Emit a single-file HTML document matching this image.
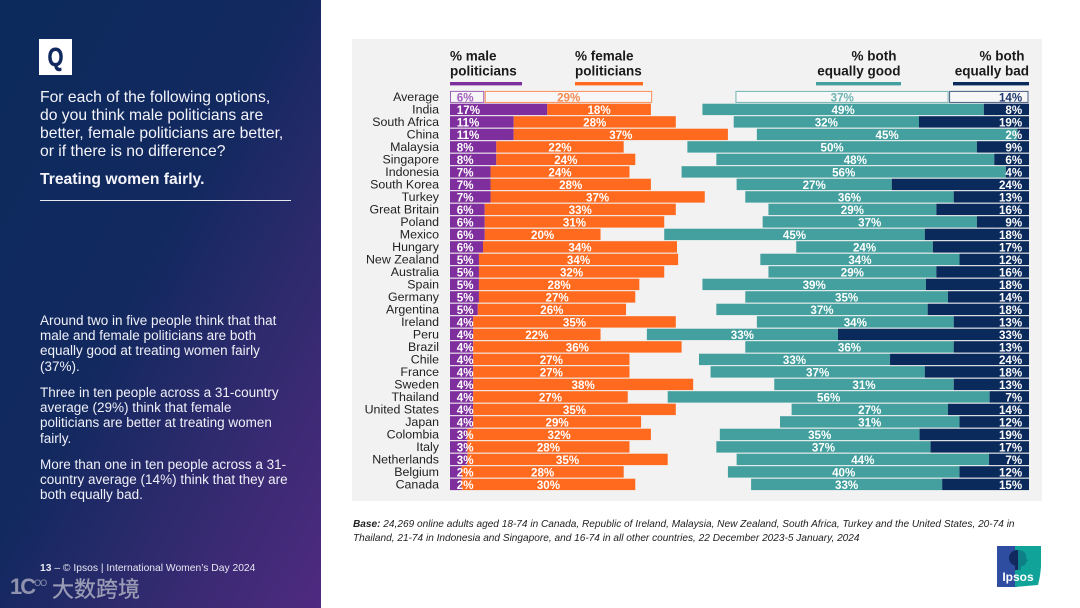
<!DOCTYPE html>
<html lang="en">
<head>
<meta charset="utf-8">
<title>Treating women fairly</title>
<style>
html,body{margin:0;padding:0;background:#fff;}
#slide{position:relative;width:1080px;height:608px;overflow:hidden;background:#fff;font-family:"Liberation Sans",Arial,sans-serif;}
#side{position:absolute;left:0;top:0;width:321px;height:608px;background:linear-gradient(118deg,#0c2a5c 0%,#12295f 45%,#3b2a74 80%,#4f2a80 100%);color:#fff;}
#side div{position:absolute;white-space:nowrap;}
.q{left:39px;top:39px;width:33px;height:36px;background:#fff;}
.q span{display:block;width:33px;text-align:center;color:#12295f;font:bold 26px/36px "Liberation Sans",sans-serif;transform:scaleX(.78);-webkit-text-stroke:0.6px #12295f;}
.lead{left:40px;font-size:15.7px;line-height:18px;color:#f4f4fa;}
.body{left:40px;font-size:13.5px;line-height:15.2px;color:#f0f0f8;}
#chart{position:absolute;left:0;top:0;}
#base{position:absolute;left:353px;top:518px;font-size:10.1px;line-height:14px;font-style:italic;color:#222;white-space:nowrap;}
#logo{position:absolute;left:997px;top:546px;}
</style>
</head>
<body>
<div id="slide">
  <div id="side">
    <div class="q"><span>Q</span></div>
    <div class="lead" style="top:89px">For each of the following options,<br>do you think male politicians are<br>better, female politicians are better,<br>or if there is no difference?</div>
    <div class="lead" style="top:171px;font-weight:bold">Treating women fairly.</div>
    <div style="left:40px;top:199.5px;width:251px;height:1px;background:#e8e8f0"></div>
    <div class="body" style="top:313px">Around two in five people think that that<br>male and female politicians are both<br>equally good at treating women fairly<br>(37%).</div>
    <div class="body" style="top:385px">Three in ten people across a 31-country<br>average (29%) think that female<br>politicians are better at treating women<br>fairly.</div>
    <div class="body" style="top:457px">More than one in ten people across a 31-<br>country average (14%) think that they are<br>both equally bad.</div>
    <div style="left:40px;top:563px;font-size:10.3px;line-height:12px;color:#e8e8f2"><b>13</b> – © Ipsos | International Women’s Day 2024</div>
    <div style="left:10px;top:573px;font:bold 22px/28px 'Liberation Sans',sans-serif;color:#8f93ad;letter-spacing:-2px">1C<span style="font-size:9px;font-weight:normal;letter-spacing:-1px;position:relative;top:-8px">OO</span></div>
    <div style="left:52px;top:575px;font:22px/27px 'Noto Sans CJK SC','WenQuanYi Zen Hei',sans-serif;color:#9a9db5;-webkit-text-stroke:0.3px #9a9db5">大数跨境</div>
  </div>
  <svg id="chart" width="1080" height="608" xmlns="http://www.w3.org/2000/svg"></svg>
  <div id="base"><b>Base:</b> 24,269 online adults aged 18-74 in Canada, Republic of Ireland, Malaysia, New Zealand, South Africa, Turkey and the United States, 20-74 in<br>Thailand, 21-74 in Indonesia and Singapore, and 16-74 in all other countries, 22 December 2023-5 January, 2024</div>
  <svg id="logo" width="44" height="41" viewBox="0 0 44 41" xmlns="http://www.w3.org/2000/svg">
    <rect x="0" y="0" width="20" height="41" fill="#2f4da0"/>
    <path d="M18 0H44C45 14 44 28 41 39L18 41Z" fill="#10a39a"/>
    <circle cx="20" cy="12" r="8" fill="#12295f"/>
    <rect x="18" y="17" width="4" height="7" fill="#12295f"/>
    <path d="M21 4C27 4 30 8 29 12L31 15L29 16C29 20 26 20 24 20L24 24H21Z" fill="#0d7f86"/>
    <text x="21" y="35" text-anchor="middle" font-family="Liberation Sans, sans-serif" font-size="12" font-weight="bold" fill="#fff">Ipsos</text>
  </svg>
</div>
<script>
var countries = ["Average","India","South Africa","China","Malaysia","Singapore","Indonesia","South Korea","Turkey","Great Britain","Poland","Mexico","Hungary","New Zealand","Australia","Spain","Germany","Argentina","Ireland","Peru","Brazil","Chile","France","Sweden","Thailand","United States","Japan","Colombia","Italy","Netherlands","Belgium","Canada"];
var maleValues = [6,16.8,11,11,8,8,7,7,7,6,6,6,5.7,5,5,5,5,4.8,4,4,4,4,4,4,4,4,4,3,3,3,2,2];
var femaleValues = [29,17.9,28,37,22,24,24,27.7,37,33,31,20,33.5,34.4,32,27.7,27,25.6,35,22,36,27,27,38,26.7,35,29,31.7,28,34.6,28,30];
var goodValues = [36.9,48.6,32,45,50,48,56,26.8,36,29,37,45,23.6,34.4,29,38.6,35,36.5,34,33,36,33,37,31,55.6,27,31,34.5,37,43.6,40,33];
var badValues = [13.8,7.8,19,2,9,6,4,23.7,13,16,9,18,16.6,12,16,17.8,14,17.5,13,33,13,24,18,13,6.8,14,12,18.9,17,6.9,12,15];

var NS = 'http://www.w3.org/2000/svg';
var svg = document.getElementById('chart');
var LEFT = 450, RIGHT = 1029, UNIT = 5.79, ROW0 = 96.9, STEP = 12.5, BAR_H = 11.4;
var PURPLE = '#7f2f9d', ORANGE = '#ff6a1f', TEAL = '#44a09e', NAVY = '#0b2a5c';

function make(tag, attrs, text) {
  var el = document.createElementNS(NS, tag);
  for (var k in attrs) { el.setAttribute(k, attrs[k]); }
  if (text !== undefined) { el.textContent = text; }
  return el;
}
function xLeft(v) { return LEFT + v * UNIT; }
function xRight(v) { return RIGHT - v * UNIT; }
function yRow(i) { return ROW0 + i * STEP; }

var bg = make('rect', {x:352, y:39, width:690, height:462, fill:'#f2f2f2'});


svg.appendChild(bg);

function drawHeader(line1, line2, x, x2, anchor, ux1, ux2, color, name) {
  var t1 = make('text', {x:x, y:60.5, 'text-anchor':anchor, 'font-size':13.5, 'font-weight':'bold', fill:'#1a1a1a'}, line1);
  
  
  svg.appendChild(t1);
  var t2 = make('text', {x:x2, y:75.5, 'text-anchor':anchor, 'font-size':13.5, 'font-weight':'bold', fill:'#1a1a1a'}, line2);
  
  
  svg.appendChild(t2);
  var u = make('rect', {x:ux1, y:82, width:ux2 - ux1, height:3.4, fill:color});
  
  
  svg.appendChild(u);
}
drawHeader('% male', 'politicians', 450, 450, 'start', 450, 522, PURPLE, 'male');
drawHeader('% female', 'politicians', 575, 575, 'start', 575, 643, ORANGE, 'female');
drawHeader('% both', 'equally good', 896.5, 900.5, 'end', 816, 901, TEAL, 'good');
drawHeader('% both', 'equally bad', 1024.5, 1029, 'end', 953, 1029, NAVY, 'bad');

function drawBar(x1, x2, i, color, outlined, name) {
  var y = yRow(i) - BAR_H / 2;
  var attrs = outlined
    ? {x:x1 + 0.5, y:y + 0.2, width:x2 - x1 - 1.5, height:BAR_H - 0.4, fill:'#f7f7f7', stroke:color, 'stroke-width':1, 'stroke-opacity':0.75}
    : {x:x1, y:y, width:x2 - x1, height:BAR_H, fill:color};
  var r = make('rect', attrs);
  
  
  svg.appendChild(r);
}
function drawValue(x, i, anchor, color, v, name) {
  var t = make('text', {x:x, y:yRow(i) + 4.6, 'text-anchor':anchor, 'font-size':11.6, 'font-weight':'bold', fill:color}, Math.round(v) + '%');
  
  
  svg.appendChild(t);
}

countries.forEach(function (c, i) {
  var outlined = i === 0;
  var slug = c.toLowerCase().replace(/ /g, '-');
  var label = make('text', {x:439, y:yRow(i) + 4.3, 'text-anchor':'end', 'font-size':12.4, fill:'#222'}, c);
  
  
  svg.appendChild(label);

  var m = xLeft(maleValues[i]);
  var f = xLeft(maleValues[i] + femaleValues[i]);
  var b = xRight(badValues[i]);
  var g = xRight(badValues[i] + goodValues[i]);

  drawBar(LEFT, m, i, PURPLE, outlined, 'bar-male-' + slug);
  drawBar(m, f, i, ORANGE, outlined, 'bar-female-' + slug);
  drawBar(g, b, i, TEAL, outlined, 'bar-good-' + slug);
  drawBar(b, RIGHT, i, NAVY, outlined, 'bar-bad-' + slug);

  drawValue(LEFT + 6.8, i, 'start', outlined ? '#a45fc0' : '#fff', maleValues[i], 'value-male-' + slug);
  drawValue((m + f) / 2, i, 'middle', outlined ? '#f58a52' : '#fff', femaleValues[i], 'value-female-' + slug);
  drawValue((g + b) / 2, i, 'middle', outlined ? '#6fb5b3' : '#fff', goodValues[i], 'value-good-' + slug);
  drawValue(RIGHT - 6.8, i, 'end', outlined ? '#1f3a70' : '#fff', badValues[i], 'value-bad-' + slug);
});
</script>
</body>
</html>
